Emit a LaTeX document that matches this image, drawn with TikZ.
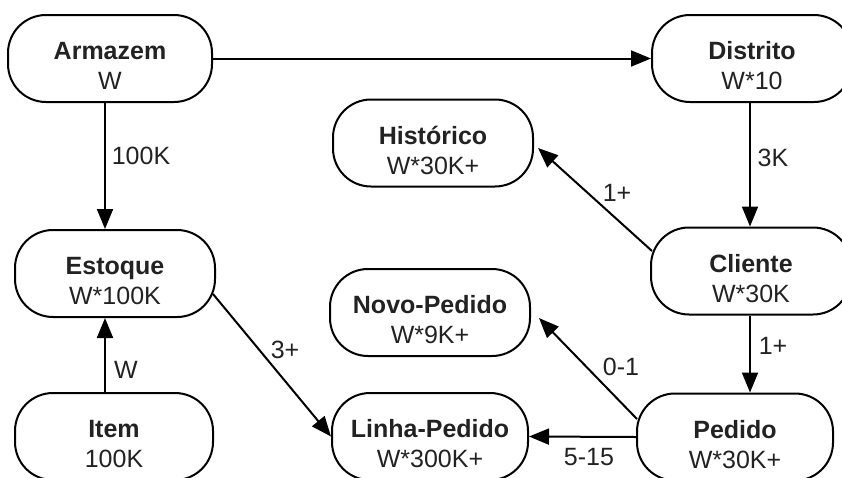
\documentclass[tikz,border=0pt]{standalone}
\usepackage{fontspec}
\setmainfont{Liberation Sans}
\usetikzlibrary{arrows.meta}
\definecolor{ink}{RGB}{34,34,34}
\begin{document}
\begin{tikzpicture}[x=1pt, y=-1pt,
  entity/.style={draw=black, line width=2pt, rounded corners=38pt,
    minimum width=200pt, minimum height=87pt, inner sep=0pt,
    align=center, text height=62pt, text depth=0pt,
    font=\fontsize{25}{30}\selectfont, text=ink},
  rel/.style={line width=2pt, draw=black,
    -{Triangle[length=20pt,width=16pt]}},
  card/.style={font=\fontsize{25}{30}\selectfont, text=ink, inner sep=0pt}]

\useasboundingbox (0,0) rectangle (842,477);

% entities
\node[entity, minimum width=204pt] (arm)  at (110,58.5)  {\bfseries Armazem\\W};
\node[entity] (dist) at (752,58.5)  {\bfseries Distrito\\W*10};
\node[entity] (hist) at (433,143)   {\bfseries Histórico\\W*30K+};
\node[entity] (est)  at (115,273.5) {\bfseries Estoque\\W*100K};
\node[entity] (cli)  at (751,271)   {\bfseries Cliente\\W*30K};
\node[entity] (novo) at (430,312.5) {\bfseries Novo-Pedido\\W*9K+};
\node[entity, minimum width=198pt] (item) at (114,436.5) {\bfseries Item\\100K};
\node[entity, minimum width=196pt] (linha) at (430,436.5) {\bfseries Linha-Pedido\\W*300K+};
\node[entity, minimum width=196pt] (ped)  at (735,437)   {\bfseries Pedido\\W*30K+};

% vertical connector columns
\coordinate (colL) at (105,0);
\coordinate (colR) at (750,0);

% relationships
\draw[rel] (arm.east) -- (dist.west);
\draw[rel] (arm.south -| colL) -- (est.north -| colL);
\draw[rel] (item.north -| colL) -- (est.south -| colL);
\draw[rel] ([shift={(-3,-24)}]est.south east) -- (linha.west);
\draw[rel] (dist.south -| colR) -- (cli.north -| colR);
\draw[rel] ([shift={(2,24.5)}]cli.north west) -- ([shift={(4,5)}]hist.east);
\draw[rel] (cli.south -| colR) -- (ped.north -| colR);
\draw[rel] ([shift={(1,26.5)}]ped.north west) -- ([shift={(8,5.5)}]novo.east);
\draw[rel] (ped.west) -- (linha.east);

% cardinalities
\node[card] (c100k) at (141,156) {100K};
\node[card] (cw)    at (126,370) {W};
\node[card] (c3p)   at (285,350) {3+};
\node[card] (c3k)   at (773,158) {3K};
\node[card] (c1h)   at (617,193) {1+};
\node[card] (c1p)   at (773,346) {1+};
\node[card] (c01)   at (621,367) {0-1};
\node[card] (c515)  at (589,457) {5-15};
\end{tikzpicture}
\end{document}
